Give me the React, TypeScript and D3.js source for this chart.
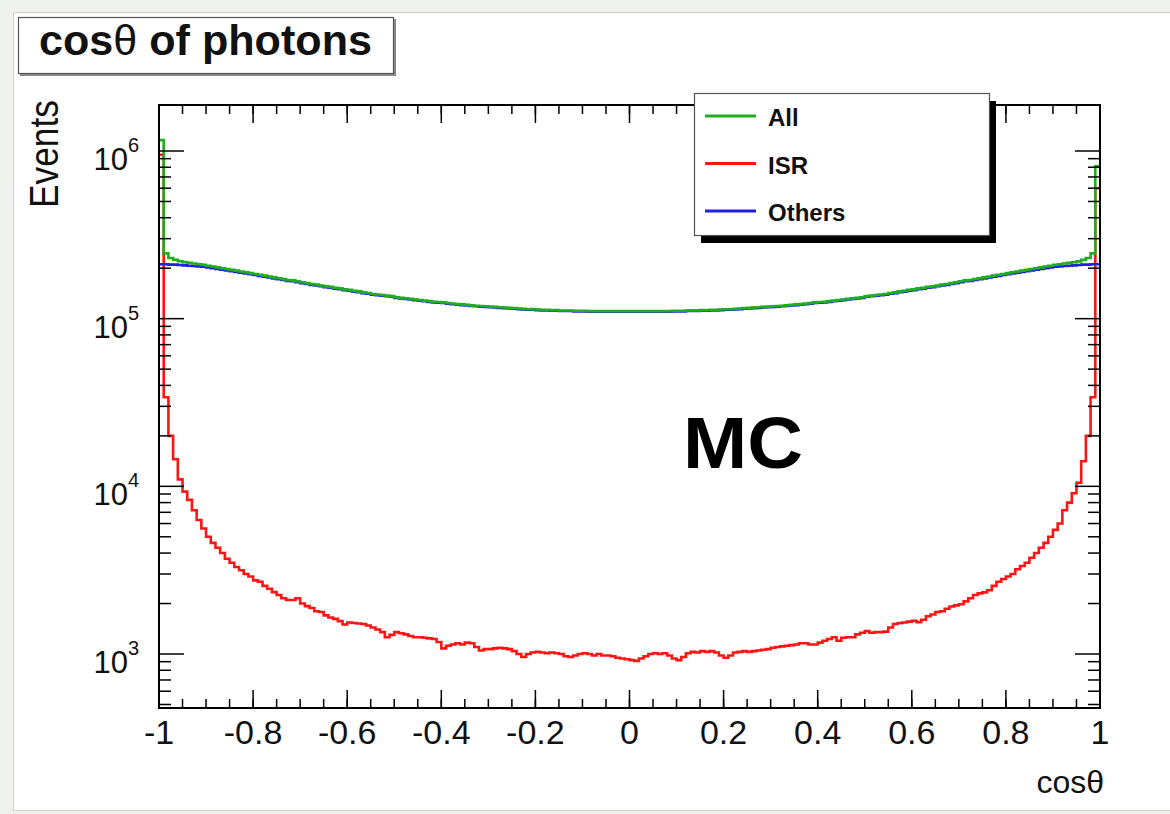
import React from "react";
import * as d3 from "d3";

// ---------------- data (bin contents, 200 bins of width 0.01 over cos(theta) in [-1, 1]) ----------------
const binsMin = -1;
const binsMax = 1;
const xTickValues = [-1, -0.8, -0.6, -0.4, -0.2, 0, 0.2, 0.4, 0.6, 0.8, 1];
const xTickLabels = ["-1", "-0.8", "-0.6", "-0.4", "-0.2", "0", "0.2", "0.4", "0.6", "0.8", "1"];
const yDecades = [1e3, 1e4, 1e5, 1e6];
const yDecadeExponents = ["3", "4", "5", "6"];
const seriesNames = ["All", "ISR", "Others"];
const seriesColors = ["#1fae1f", "#ff1414", "#2020e6"];

const isrEvents = [
  950000, 34000, 20000, 14500, 11000, 9300, 8300, 7200, 6300, 5600,
  5000, 4600, 4300, 4000, 3700, 3500, 3300, 3160, 3000, 2900,
  2750, 2700, 2550, 2450, 2340, 2250, 2150, 2100, 2100, 2150,
  2000, 1930, 1880, 1800, 1780, 1700, 1650, 1620, 1570, 1500,
  1540, 1530, 1520, 1510, 1480, 1440, 1400, 1350, 1260, 1300,
  1350, 1330, 1310, 1280, 1260, 1260, 1250, 1240, 1230, 1180,
  1080, 1120, 1140, 1160, 1140, 1170, 1160, 1100, 1050, 1070,
  1070, 1080, 1090, 1080, 1070, 1040, 1000, 960, 1000, 1020,
  1030, 1020, 1010, 1020, 1010, 1000, 970, 960, 980, 1000,
  1010, 1000, 980, 1000, 980, 980, 970, 950, 940, 930,
  920, 910, 940, 970, 1000, 1010, 1000, 1010, 980, 940,
  920, 960, 1010, 1030, 1020, 1040, 1030, 1040, 1020, 980,
  950, 980, 1020, 1030, 1040, 1030, 1040, 1050, 1060, 1070,
  1090, 1100, 1110, 1120, 1130, 1140, 1160, 1160, 1140, 1140,
  1170, 1200, 1230, 1260, 1200, 1250, 1260, 1260, 1310, 1340,
  1370, 1340, 1350, 1350, 1360, 1440, 1510, 1530, 1540, 1560,
  1580, 1550, 1600, 1680, 1720, 1780, 1800, 1860, 1920, 1950,
  1980, 2060, 2150, 2250, 2300, 2330, 2400, 2550, 2700, 2800,
  2900, 3000, 3200, 3350, 3500, 3750, 4000, 4300, 4600, 5000,
  5500, 6000, 7200, 8000, 9100, 10500, 14100, 20000, 34000, 600000,
];

const othersEvents = [
  211e3, 211e3, 210e3, 210e3, 209e3, 208e3, 207e3, 206e3, 205e3, 204e3,
  202e3, 200e3, 198e3, 196e3, 194e3, 192e3, 190e3, 188e3, 186e3, 184e3,
  182e3, 180e3, 178e3, 176e3, 174e3, 172e3, 170e3, 168e3, 167e3, 165e3,
  163e3, 161e3, 159e3, 158e3, 156e3, 154e3, 153e3, 151e3, 150e3, 148e3,
  147e3, 145e3, 144e3, 142e3, 141e3, 139e3, 138e3, 137e3, 136e3, 135e3,
  133e3, 132e3, 131e3, 130e3, 129e3, 128e3, 127e3, 126e3, 125e3, 124.5e3,
  124e3, 123e3, 122e3, 121e3, 120.5e3, 120e3, 119e3, 118.5e3, 118e3, 117.5e3,
  117e3, 116.5e3, 116e3, 115.5e3, 115e3, 114.5e3, 114e3, 113.5e3, 113e3, 113e3,
  112.5e3, 112e3, 112e3, 111.5e3, 111.5e3, 111e3, 111e3, 111e3, 110.5e3, 110.5e3,
  110.5e3, 110e3, 110e3, 110e3, 110e3, 110e3, 110e3, 110e3, 110e3, 110e3,
  110e3, 110e3, 110e3, 110e3, 110e3, 110e3, 110e3, 110e3, 110e3, 110.5e3,
  110.5e3, 110.5e3, 111e3, 111e3, 111e3, 111.5e3, 111.5e3, 112e3, 112e3, 112.5e3,
  113e3, 113e3, 113.5e3, 114e3, 114.5e3, 115e3, 115.5e3, 116e3, 116.5e3, 117e3,
  117.5e3, 118e3, 118.5e3, 119e3, 120e3, 120.5e3, 121e3, 122e3, 123e3, 124e3,
  124.5e3, 125e3, 126e3, 127e3, 128e3, 129e3, 130e3, 131e3, 132e3, 133e3,
  135e3, 136e3, 137e3, 138e3, 139e3, 141e3, 142e3, 144e3, 145e3, 147e3,
  148e3, 150e3, 151e3, 153e3, 154e3, 156e3, 158e3, 159e3, 161e3, 163e3,
  165e3, 167e3, 168e3, 170e3, 172e3, 174e3, 176e3, 178e3, 180e3, 182e3,
  184e3, 186e3, 188e3, 190e3, 192e3, 194e3, 196e3, 198e3, 200e3, 202e3,
  204e3, 205e3, 206e3, 207e3, 208e3, 209e3, 210e3, 210e3, 211e3, 211e3,
];

const allEvents = [
  1161e3, 245e3, 230e3, 224.5e3, 220e3, 217.3e3, 215.3e3, 213.2e3, 211.3e3, 209.6e3,
  207e3, 204.6e3, 202.3e3, 200e3, 197.7e3, 195.5e3, 193.3e3, 191.2e3, 189e3, 186.9e3,
  184.8e3, 182.7e3, 180.6e3, 178.5e3, 176.3e3, 174.3e3, 172.2e3, 170.1e3, 169.1e3, 167.2e3,
  165e3, 162.9e3, 160.9e3, 159.8e3, 157.8e3, 155.7e3, 154.7e3, 152.6e3, 151.6e3, 149.5e3,
  148.5e3, 146.5e3, 145.5e3, 143.5e3, 142.4e3, 140.4e3, 139.4e3, 138.3e3, 137.2e3, 136.3e3,
  134.3e3, 133.2e3, 132.2e3, 131.2e3, 130.2e3, 129.2e3, 128.2e3, 127.2e3, 126.2e3, 125.6e3,
  125e3, 124.1e3, 123.1e3, 122.1e3, 121.6e3, 121.1e3, 120.1e3, 119.5e3, 119e3, 118.5e3,
  118e3, 117.5e3, 117e3, 116.5e3, 116e3, 115.5e3, 114.9e3, 114.4e3, 113.9e3, 114e3,
  113.5e3, 113e3, 112.9e3, 112.5e3, 112.4e3, 111.9e3, 111.9e3, 111.9e3, 111.4e3, 111.4e3,
  111.4e3, 110.9e3, 110.9e3, 110.9e3, 110.9e3, 110.9e3, 110.9e3, 110.9e3, 110.9e3, 110.9e3,
  110.9e3, 110.9e3, 110.9e3, 110.9e3, 110.9e3, 110.9e3, 110.9e3, 110.9e3, 110.9e3, 111.4e3,
  111.4e3, 111.4e3, 111.9e3, 112e3, 112e3, 112.5e3, 112.5e3, 113e3, 113e3, 113.4e3,
  113.9e3, 113.9e3, 114.5e3, 115e3, 115.5e3, 116e3, 116.5e3, 117e3, 117.5e3, 118e3,
  118.5e3, 119e3, 119.5e3, 120.1e3, 121.1e3, 121.6e3, 122.1e3, 123.1e3, 124.1e3, 125.1e3,
  125.6e3, 126.1e3, 127.2e3, 128.2e3, 129.1e3, 130.2e3, 131.2e3, 132.2e3, 133.2e3, 134.3e3,
  136.3e3, 137.3e3, 138.3e3, 139.3e3, 140.3e3, 142.4e3, 143.5e3, 145.5e3, 146.5e3, 148.5e3,
  149.5e3, 151.6e3, 152.6e3, 154.7e3, 155.7e3, 157.8e3, 159.8e3, 160.9e3, 162.9e3, 165e3,
  167e3, 169.1e3, 170.2e3, 172.3e3, 174.3e3, 176.3e3, 178.4e3, 180.6e3, 182.7e3, 184.8e3,
  186.9e3, 189e3, 191.2e3, 193.4e3, 195.5e3, 197.8e3, 200e3, 202.3e3, 204.6e3, 207e3,
  209.5e3, 211e3, 213.2e3, 215e3, 217.1e3, 219.5e3, 224.1e3, 230e3, 245e3, 811e3,
];

// ---------------- layout ----------------
const W = 1170;
const H = 814;
const frame = { left: 159, right: 1100, top: 105, bottom: 708 };
const FONT = "'Liberation Sans', Arial, Helvetica, sans-serif";

const x = d3.scaleLinear().domain([binsMin, binsMax]).range([frame.left, frame.right]);
const y = d3
  .scaleLog()
  .domain([Math.pow(10, 2.678), Math.pow(10, 6.2743)])
  .range([frame.bottom, frame.top]);

function histPath(values: number[]): string {
  const n = values.length;
  const width = (binsMax - binsMin) / n;
  const pts: [number, number][] = values.map((v, i) => [binsMin + i * width, v]);
  pts.push([binsMax, values[n - 1]]);
  const line = d3
    .line<[number, number]>()
    .x((d) => x(d[0]))
    .y((d) => y(d[1]))
    .curve(d3.curveStepAfter);
  return line(pts) || "";
}

export default function App() {
  const xMinor = d3.range(-1, 1.0001, 0.05).map((v) => Math.round(v * 100) / 100);
  const [yLo, yHi] = y.domain();
  const yMinor: number[] = [];
  [100, 1000, 10000, 100000, 1000000].forEach((dec) => {
    for (let k = 2; k <= 9; k++) {
      const v = dec * k;
      if (v > yLo && v < yHi) yMinor.push(v);
    }
  });

  const series = [
    { name: "ISR", values: isrEvents, color: seriesColors[1] },
    { name: "Others", values: othersEvents, color: seriesColors[2] },
    { name: "All", values: allEvents, color: seriesColors[0] },
  ];

  const legendRows = seriesNames.map((n, i) => ({ name: n, color: seriesColors[i] }));
  const legend = { x: 694, y: 93, w: 295, h: 142 };

  return (
    <svg
      width={W}
      height={H}
      style={{ position: "absolute", left: 0, top: 0, display: "block" }}
      fontFamily={FONT}
    >
      <defs>
        <clipPath id="frameClip">
          <rect x={frame.left} y={frame.top} width={frame.right - frame.left} height={frame.bottom - frame.top} />
        </clipPath>
      </defs>
      {/* canvas */}
      <rect x={0} y={0} width={W} height={H} fill="#eff1ef" />
      <rect x={13.5} y={12.5} width={W} height={798} fill="#ffffff" stroke="#cdd1cd" strokeWidth={1} />

      {/* title box */}
      <rect x={20} y={19} width={376} height={57} fill="#8a8a8a" />
      <rect x={18.5} y={17.5} width={375} height={56} fill="#ffffff" stroke="#555" strokeWidth={1.2} />
      <text x={39} y={55} fontSize={42} fontWeight="bold" fill="#111" textLength={333} lengthAdjust="spacingAndGlyphs">
        cos<tspan fontWeight="normal">θ</tspan> of photons
      </text>

      {/* histograms */}
      <g clipPath="url(#frameClip)">
        {series.map((s) => (
          <path key={s.name} d={histPath(s.values)} fill="none" stroke={s.color} strokeWidth={2.6} strokeLinejoin="miter" />
        ))}
      </g>

      {/* frame */}
      <rect
        x={frame.left}
        y={frame.top}
        width={frame.right - frame.left}
        height={frame.bottom - frame.top}
        fill="none"
        stroke="#000"
        strokeWidth={2}
      />

      {/* ticks */}
      <g stroke="#000" strokeWidth={1.5}>
        {xMinor.map((v) => (
          <g key={"xm" + v}>
            <line x1={x(v)} x2={x(v)} y1={frame.bottom} y2={frame.bottom - 9} />
            <line x1={x(v)} x2={x(v)} y1={frame.top} y2={frame.top + 9} />
          </g>
        ))}
        {xTickValues.map((v) => (
          <g key={"xM" + v}>
            <line x1={x(v)} x2={x(v)} y1={frame.bottom} y2={frame.bottom - 18} />
            <line x1={x(v)} x2={x(v)} y1={frame.top} y2={frame.top + 18} />
          </g>
        ))}
        {yMinor.map((v) => (
          <g key={"ym" + v}>
            <line x1={frame.left} x2={frame.left + 12} y1={y(v)} y2={y(v)} />
            <line x1={frame.right} x2={frame.right - 12} y1={y(v)} y2={y(v)} />
          </g>
        ))}
        {yDecades.map((v) => (
          <g key={"yM" + v}>
            <line x1={frame.left} x2={frame.left + 25} y1={y(v)} y2={y(v)} />
            <line x1={frame.right} x2={frame.right - 25} y1={y(v)} y2={y(v)} />
          </g>
        ))}
      </g>

      {/* x labels */}
      {xTickValues.map((v, i) => (
        <text key={"xl" + v} x={x(v)} y={744} textAnchor="middle" fontSize={34} fill="#111">
          {xTickLabels[i]}
        </text>
      ))}
      {/* y labels */}
      {yDecades.map((v, i) => (
        <text key={"yl" + v} x={139} y={y(v) + 19} textAnchor="end" fontSize={31} fill="#111">
          10
          <tspan dy={-18} fontSize={20}>
            {yDecadeExponents[i]}
          </tspan>
        </text>
      ))}

      {/* axis titles */}
      <text
        transform="translate(58,154) rotate(-90)"
        textAnchor="middle"
        fontSize={40}
        fill="#111"
        textLength={108}
        lengthAdjust="spacingAndGlyphs"
      >
        Events
      </text>
      <text x={1104} y={793} textAnchor="end" fontSize={32} fill="#111">
        cos<tspan>θ</tspan>
      </text>

      {/* MC label */}
      <text x={683} y={468} fontSize={72} fontWeight="bold" fill="#000" textLength={120} lengthAdjust="spacingAndGlyphs">
        MC
      </text>

      {/* legend */}
      <rect x={legend.x + 7} y={legend.y + 8} width={legend.w} height={legend.h} fill="#000" />
      <rect x={legend.x + 0.5} y={legend.y + 0.5} width={legend.w} height={legend.h} fill="#fff" stroke="#555" strokeWidth={1.2} />
      {legendRows.map((r, i) => {
        const ly = 116 + i * 47.5;
        return (
          <g key={r.name}>
            <line x1={705} x2={756} y1={ly} y2={ly} stroke={r.color} strokeWidth={3} />
            <text x={768} y={ly + 10} fontSize={24} fontWeight="bold" fill="#111">
              {r.name}
            </text>
          </g>
        );
      })}
    </svg>
  );
}
